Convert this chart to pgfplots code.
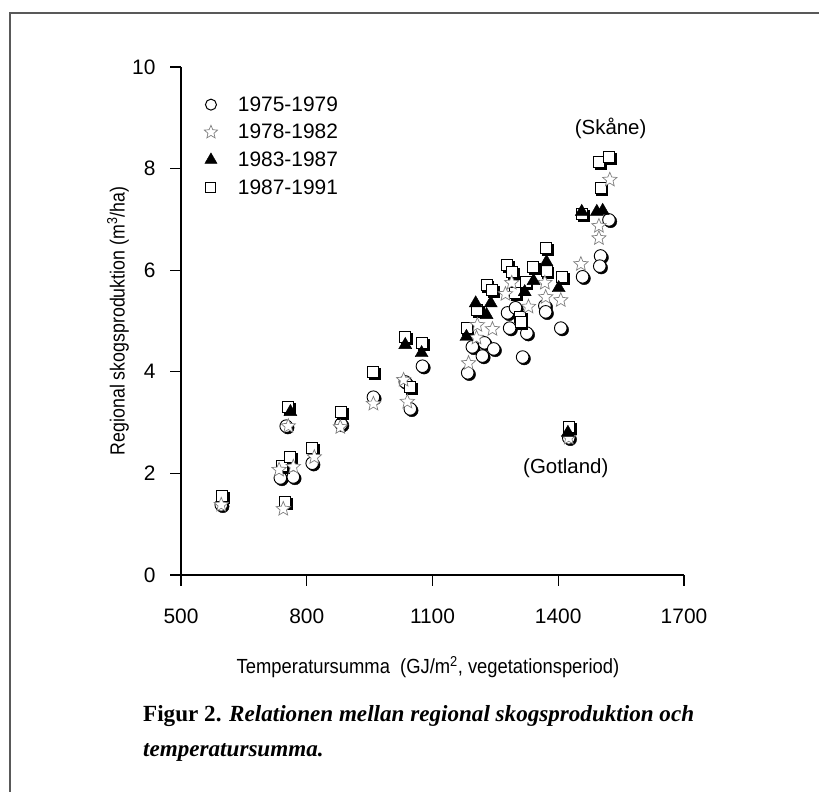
\documentclass[border=0pt]{standalone}
\usepackage{pgfplots}
\pgfplotsset{compat=1.18}
\usepackage{pgfplotstable}
\usepackage{fontspec}
\setmainfont{Liberation Sans}
\newfontfamily\capfont{Liberation Serif}

% outlined five-point star
\pgfdeclareplotmark{ostar}{%
  \pgfpathmoveto{\pgfpointpolar{90}{\pgfplotmarksize}}%
  \pgfpathlineto{\pgfpointpolar{126}{0.45\pgfplotmarksize}}%
  \pgfpathlineto{\pgfpointpolar{162}{\pgfplotmarksize}}%
  \pgfpathlineto{\pgfpointpolar{198}{0.45\pgfplotmarksize}}%
  \pgfpathlineto{\pgfpointpolar{234}{\pgfplotmarksize}}%
  \pgfpathlineto{\pgfpointpolar{270}{0.45\pgfplotmarksize}}%
  \pgfpathlineto{\pgfpointpolar{306}{\pgfplotmarksize}}%
  \pgfpathlineto{\pgfpointpolar{342}{0.45\pgfplotmarksize}}%
  \pgfpathlineto{\pgfpointpolar{18}{\pgfplotmarksize}}%
  \pgfpathlineto{\pgfpointpolar{54}{0.45\pgfplotmarksize}}%
  \pgfpathclose
  \pgfusepathqfillstroke
}

% 1975-1979
\pgfplotstableread{
x y
596 1.38
737 1.91
768 1.93
751 2.93
813 2.20
882 2.97
959 3.50
1035 3.80
1047 3.27
1076 4.11
1184 3.98
1195 4.49
1224 4.57
1219 4.31
1246 4.45
1279 5.16
1298 5.26
1284 4.86
1325 4.76
1315 4.29
1368 5.30
1370 5.18
1406 4.86
1425 2.70
1458 5.87
1501 6.28
1499 6.08
1521 6.99
}\tabA
% 1978-1982
\pgfplotstableread{
x y
596 1.38
744 1.30
734 2.07
768 2.13
756 2.93
818 2.32
880 2.91
959 3.37
1031 3.84
1040 3.41
1186 4.17
1205 4.67
1207 4.92
1243 4.84
1274 5.53
1289 5.75
1329 5.28
1368 5.75
1370 5.47
1406 5.41
1425 2.70
1454 6.12
1497 6.87
1497 6.63
1523 7.78
}\tabB
% 1983-1987
\pgfplotstableread{
x y
761 3.21
1035 4.53
1074 4.37
1181 4.69
1203 5.35
1239 5.35
1229 5.12
1320 5.57
1341 5.79
1372 6.16
1401 5.65
1423 2.80
1456 7.15
1492 7.15
1506 7.17
}\tabC
% 1987-1991
\pgfplotstableread{
x y
598 1.56
749 1.44
741 2.15
761 2.32
756 3.31
813 2.50
882 3.21
959 4.00
1035 4.69
1074 4.57
1047 3.70
1181 4.86
1207 5.22
1229 5.71
1243 5.61
1277 6.10
1289 5.96
1296 5.55
1308 5.08
1310 4.98
1322 5.77
1339 6.06
1370 6.44
1372 5.98
1408 5.87
1425 2.91
1456 7.10
1501 7.62
1497 8.13
1521 8.23
}\tabD

\begin{document}
\begin{tikzpicture}
\useasboundingbox (0,0) rectangle (819bp,792bp);
\draw[gray!70!black, line width=1.2bp] (10bp,0bp) -- (10bp,779bp) -- (819bp,779bp);
\begin{axis}[
  at={(181bp,217bp)}, anchor=south west,
  scale only axis, width=503bp, height=508bp,
  xmin=500, xmax=1700, ymin=0, ymax=10,
  axis lines=left,
  axis line style={-, line width=1.3bp},
  xtick={500,800,...,1700}, ytick={0,2,...,10},
  tick align=outside, major tick length=11bp,
  tick style={line width=1.3bp, black},
  /pgf/number format/1000 sep={},
  /pgf/number format/assume math mode=true,
  tick label style={font=\fontsize{21}{25}\selectfont},
  xticklabel style={yshift=-19bp},
  yticklabel style={xshift=-11bp},
  clip=false,
  legend style={draw=none, fill=none, at={(0.04,0.948)}, anchor=north west,
    font=\fontsize{21}{25}\selectfont, row sep=9.5bp,
    nodes={inner sep=1bp}},
  legend cell align=left,
  legend image code/.code={\path[draw=none, fill=none] (0bp,0bp) -- (32bp,0bp);
    \draw[#1] plot coordinates {(6bp,0bp)};},
  shadow/.style={only marks, forget plot,
    mark options={xshift=1.6bp, yshift=-1.6bp, draw=black, fill=black}},
]
\addlegendimage{only marks, mark=*, mark size=5.5bp, mark options={draw=black, fill=white, line width=1bp}}
\addlegendentry{1975-1979}
\addlegendimage{only marks, mark=ostar, mark size=7bp, mark options={draw=gray, fill=white, line width=0.7bp}}
\addlegendentry{1978-1982}
\addlegendimage{only marks, mark=triangle*, mark size=7bp, mark options={draw=black, fill=black}}
\addlegendentry{1983-1987}
\addlegendimage{only marks, mark=square*, mark size=5bp, mark options={draw=black, fill=white, line width=1bp}}
\addlegendentry{1987-1991}

% circles
\addplot[shadow, mark=*, mark size=6.3bp] table {\tabA};
\addplot[only marks, forget plot, mark=*, mark size=6.3bp, mark options={draw=black, fill=white, line width=0.9bp}] table {\tabA};
% squares
\addplot[shadow, mark=square*, mark size=5.5bp] table {\tabD};
\addplot[only marks, forget plot, mark=square*, mark size=5.5bp, mark options={draw=black, fill=white, line width=0.9bp}] table {\tabD};
% stars
\addplot[only marks, forget plot, mark=ostar, mark size=7.5bp, mark options={draw=gray, fill=white, line width=0.7bp}] table {\tabB};
% triangles
\addplot[only marks, forget plot, mark=triangle*, mark size=7.5bp, mark options={draw=black, fill=black}] table {\tabC};

\node[font=\fontsize{20.5}{24}\selectfont] at (axis cs:1525,8.8) {(Skåne)};
\node[font=\fontsize{20.5}{24}\selectfont] at (axis cs:1418,2.1) {(Gotland)};
\end{axis}
\node[rotate=90, font=\fontsize{20.5}{24}\selectfont] at (118bp,471bp) {\scalebox{0.87}[1]{Regional skogsproduktion (m\textsuperscript{3}/ha)}};
\node[font=\fontsize{20.5}{24}\selectfont] at (428bp,125bp) {\scalebox{0.9}[1]{Temperatursumma\ \ (GJ/m\textsuperscript{2}, vegetationsperiod)}};
\node[anchor=base west, font=\capfont\bfseries\fontsize{23.2}{28}\selectfont, inner sep=0pt] at (143bp,70bp)
  {Figur 2. \itshape Relationen mellan regional skogsproduktion och};
\node[anchor=base west, font=\capfont\bfseries\itshape\fontsize{23.2}{28}\selectfont, inner sep=0pt] at (143bp,36bp)
  {temperatursumma.};
\end{tikzpicture}
\end{document}
